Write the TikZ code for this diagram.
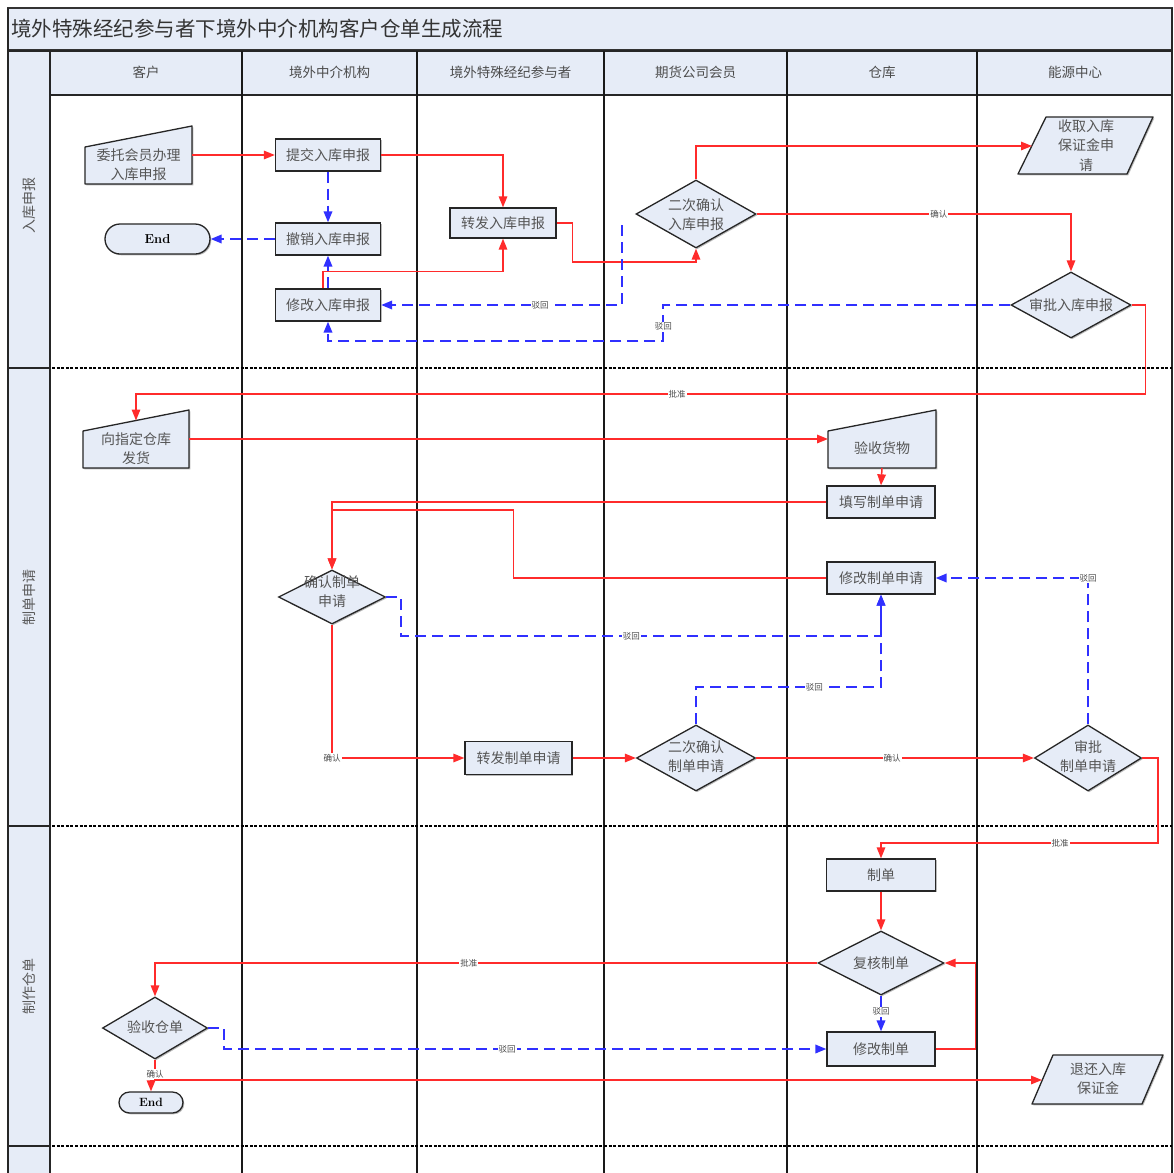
\documentclass[tikz,border=0pt]{standalone}
\usepackage{fontspec}
\newfontfamily\cjk{Noto Sans CJK SC}
\usetikzlibrary{shapes.geometric,arrows.meta,shadows}
\definecolor{nfill}{HTML}{E6ECF7}
\definecolor{tgrey}{HTML}{555555}
\definecolor{fred}{HTML}{FF2B2B}
\definecolor{fblue}{HTML}{3030FF}
\begin{document}
\begin{tikzpicture}[x=1pt,y=-1pt,
 shd/.style={drop shadow={shadow xshift=1.3pt,shadow yshift=-1.3pt,opacity=.45,fill=black!60}},
 box/.style={rectangle,draw=black!85,line width=1.3pt,fill=nfill,inner sep=0pt,minimum width=105pt,minimum height=32pt,font=\cjk\fontsize{14}{19}\selectfont,text=tgrey,shd},
 dia/.style={diamond,draw=black!85,line width=1.3pt,fill=nfill,inner sep=0pt,shd},
 txt/.style={font=\cjk\fontsize{14}{19}\selectfont,text=tgrey,align=center,inner sep=0pt},
 term/.style={rectangle,draw=black!85,line width=1.3pt,fill=nfill,inner sep=0pt,font=\bfseries\fontsize{13}{15}\selectfont,shd},
 poly/.style={draw=black!85,line width=1.3pt,fill=nfill,line join=round},
 polyshd/.style={fill=black!60,opacity=.45},
 rl/.style={draw=fred,line width=1.5pt,-{Triangle[length=11pt,width=8.5pt]}},
 bl/.style={draw=fblue,line width=1.9pt,dash pattern=on 11pt off 6pt,-{Triangle[length=11pt,width=8.5pt]}},
 el/.style={font=\cjk\fontsize{8.5}{10}\selectfont,fill=white,inner sep=1pt,text=black!70},
 hd/.style={font=\cjk\fontsize{13.5}{16}\selectfont,text=black!70},
 lanelab/.style={font=\cjk\fontsize{14}{16}\selectfont,text=black!65,rotate=90},
 sep/.style={line width=2.6pt,dash pattern=on 3pt off 1.6pt},
 col/.style={line width=1.8pt,draw=black!90},
]
\useasboundingbox (0,0) rectangle (1173,1173);
\fill[white] (0,0) rectangle (1173,1173);
% ---------- frame ----------
\filldraw[fill=nfill,draw=black!80,line width=1.5pt] (8,8) rectangle (1172,50);
\node[font=\cjk\fontsize{20.5}{24}\selectfont,text=black!80,anchor=west,inner sep=0pt] (title) at (11,29) {境外特殊经纪参与者下境外中介机构客户仓单生成流程};
\fill[nfill] (50,51) rectangle (1172,95);
\fill[nfill] (8,51) rectangle (50,1173);
\draw[line width=1.5pt,black!85] (8,8) -- (8,1173);
\draw[line width=1.5pt,black!85] (1172,8) -- (1172,1173);
\draw[line width=1.5pt,black!85] (50,51) -- (50,1173);
\draw[line width=1.5pt,black!85] (8,51) -- (1172,51);
\draw[line width=1.5pt,black!85] (50,95) -- (1172,95);
\foreach \x in {242,417,604,787,977} \draw[col] (\x,51) -- (\x,1173);
\foreach \y in {368,826,1146} {\draw[line width=1.2pt,black!85] (8,\y) -- (50,\y); \draw[sep] (52,\y) -- (1172,\y);}
\node[hd] (h1) at (146,72) {客户};
\node[hd] (h2) at (329.5,72) {境外中介机构};
\node[hd] (h3) at (510.5,72) {境外特殊经纪参与者};
\node[hd] (h4) at (695.5,72) {期货公司会员};
\node[hd] (h5) at (882,72) {仓库};
\node[hd] (h6) at (1075,72) {能源中心};
\node[lanelab] (l1) at (29,205) {入库申报};
\node[lanelab] (l2) at (29,597) {制单申请};
\node[lanelab] (l3) at (29,986) {制作仓单};
% ---------- 入库申报 ----------
\fill[polyshd] (86.3,148.3) -- (193.3,127.3) -- (193.3,185.3) -- (86.3,185.3) -- cycle;
\draw[poly] (85,147) -- (192,126) -- (192,184) -- (85,184) -- cycle;
\node[txt] (n1) at (138.5,165) {委托会员办理\\入库申报};
\coordinate (n1e) at (192,155);
\node[box] (n2) at (328,155) {提交入库申报};
\node[box] (n3) at (328,239) {撤销入库申报};
\node[box] (n4) at (328,305) {修改入库申报};
\node[term,minimum width=105pt,minimum height=30pt,rounded corners=15pt] (e1) at (157.5,239) {End};
\node[box,minimum width=106pt,minimum height=30pt] (n5) at (503,223) {转发入库申报};
\node[dia,minimum width=120pt,minimum height=68pt] (d1) at (696,214) {};
\node[txt] (d1t) at (696,215) {二次确认\\入库申报};
\fill[polyshd] (1019.3,175.3) -- (1128.3,175.3) -- (1154.3,118.3) -- (1047.3,118.3) -- cycle;
\draw[poly] (1018,174) -- (1127,174) -- (1153,117) -- (1046,117) -- cycle;
\node[txt,font=\cjk\fontsize{14}{19.5}\selectfont] (p1) at (1086,145.5) {收取入库\\保证金申\\请};
\coordinate (p1w) at (1032,146);
\node[dia,minimum width=120pt,minimum height=66pt] (d2) at (1071,305) {};
\node[txt] (d2t) at (1071,305) {审批入库申报};
% ---------- 制单申请 ----------
\fill[polyshd] (84.3,432.3) -- (190.3,411.3) -- (190.3,469.3) -- (84.3,469.3) -- cycle;
\draw[poly] (83,431) -- (189,410) -- (189,468) -- (83,468) -- cycle;
\node[txt] (n6) at (136,449) {向指定仓库\\发货};
\coordinate (n6n) at (136,420.5);
\coordinate (n6e) at (189,439);
\fill[polyshd] (829.3,432.3) -- (937.3,411.3) -- (937.3,469.3) -- (829.3,469.3) -- cycle;
\draw[poly] (828,431) -- (936,410) -- (936,468) -- (828,468) -- cycle;
\node[txt] (n7) at (882,448) {验收货物};
\coordinate (n7w) at (828,439);
\coordinate (n7s) at (882,468);
\node[box,minimum width=108pt] (n8) at (881,502) {填写制单申请};
\node[box,minimum width=108pt] (n9) at (881,578) {修改制单申请};
\node[dia,minimum width=107pt,minimum height=54pt] (d3) at (332,597) {};
\node[txt] (d3t) at (332,591.5) {确认制单\\申请};
\node[box,minimum width=107pt,minimum height=33pt] (n10) at (518.5,758) {转发制单申请};
\node[dia,minimum width=119pt,minimum height=66pt] (d4) at (696,758) {};
\node[txt] (d4t) at (696,757) {二次确认\\制单申请};
\node[dia,minimum width=107pt,minimum height=66pt] (d5) at (1088,758) {};
\node[txt] (d5t) at (1088,757) {审批\\制单申请};
% ---------- 制作仓单 ----------
\node[box,minimum width=109pt] (n11) at (881,875) {制单};
\node[dia,minimum width=126pt,minimum height=64pt] (d6) at (881,963) {};
\node[txt] (d6t) at (881,963) {复核制单};
\node[box,minimum width=108pt,minimum height=34pt] (n12) at (881,1049) {修改制单};
\node[dia,minimum width=105pt,minimum height=62pt] (d7) at (155,1028) {};
\node[txt] (d7t) at (155,1027) {验收仓单};
\node[term,minimum width=64pt,minimum height=21pt,rounded corners=10.5pt,font=\bfseries\fontsize{12}{14}\selectfont] (e2) at (151,1102.5) {End};
\fill[polyshd] (1033.3,1105.3) -- (1143.3,1105.3) -- (1164.3,1056.3) -- (1054.3,1056.3) -- cycle;
\draw[poly] (1032,1104) -- (1142,1104) -- (1163,1055) -- (1053,1055) -- cycle;
\node[txt] (p2) at (1098,1078.5) {退还入库\\保证金};
\coordinate (p2w) at (1042,1080);
% ---------- red connectors ----------
\draw[rl] (n1e) -- (n2.west);
\draw[rl] (n2.east) -| (n5.north);
\draw[rl] (n5.east) -- ++(16,0) -- ++(0,39) -| (d1.south);
\draw[rl] ([xshift=-5pt]n4.north) -- ++(0,-17) -| (n5.south);
\draw[rl] (d1.north) |- (p1w);
\draw[rl] (d1.east) -| node[el,pos=.29]{确认} (d2.north);
\draw[rl] (d2.east) -- ++(14,0) -- ++(0,89) -| node[el,pos=.232]{批准} (n6n);
\draw[rl] (n6e) -- (n7w);
\draw[rl] (n7s) -- (n8.north);
\draw[rl] (n8.west) -| (d3.north);
\draw[rl] (n9.west) -- ++(-313,0) -- ++(0,-68) -| (d3.north);
\draw[rl] (d3.south) |- node[el,pos=.5]{确认} (n10.west);
\draw[rl] (n10.east) -- (d4.west);
\draw[rl] (d4.east) -- node[el,pos=.49]{确认} (d5.west);
\draw[rl] (d5.east) -- ++(16,0) -- ++(0,85) -| node[el,pos=.177]{批准} (n11.north);
\draw[rl] (n11.south) -- (d6.north);
\draw[rl] (d6.west) -| node[el,pos=.263]{批准} (d7.north);
\draw[rl] (n12.east) -- ++(40,0) |- (d6.east);
\draw[rl] (d7.south) |- (p2w);
\draw[rl] (d7.south) -- node[el,pos=.7]{确认} ++(0,21) -| (e2.north);
% ---------- blue connectors ----------
\draw[bl] (n2.south) -- (n3.north);
\draw[bl] (n3.west) -- (e1.east);
\draw[bl] (n4.north) -- (n3.south);
\coordinate (b1) at (622,225);
\draw[bl] (b1) |- node[el,pos=.67]{驳回} (n4.east);
\draw[bl] (d2.west) -- ++(-347,0) -- node[el,pos=.6]{驳回} ++(0,36) -| (n4.south);
\draw[bl] (d3.east) -- ++(15,0) -- ++(0,39) -| node[el,pos=.24]{驳回} (n9.south);
\draw[bl] (d4.north) -- ++(0,-37) -| node[el,pos=.32]{驳回} (n9.south);
\draw[bl] (d5.north) |- node[el,pos=.5]{驳回} (n9.east);
\draw[bl] (d6.south) -- node[el,pos=.45]{驳回} (n12.north);
\draw[bl] (d7.east) -- ++(16,0) |- node[el,pos=.735]{驳回} (n12.west);
\end{tikzpicture}
\end{document}
